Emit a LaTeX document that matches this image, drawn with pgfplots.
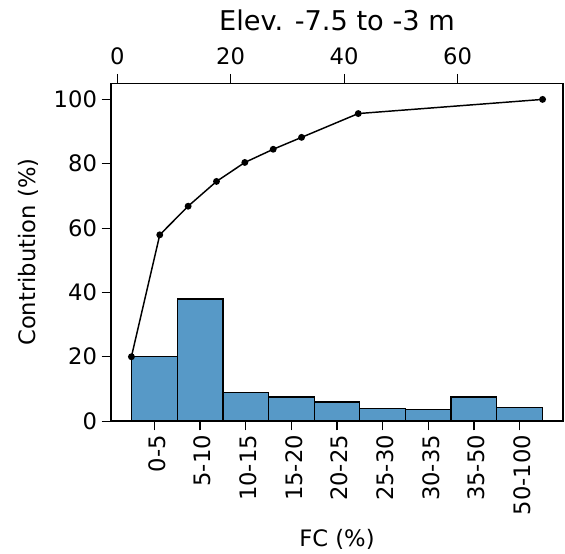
\documentclass[border=0pt]{standalone}
\usepackage{fontspec}
\setmainfont{DejaVu Sans}
\usepackage{pgfplots}
\pgfplotsset{compat=1.18}
\definecolor{barblue}{HTML}{5799C7}

\begin{document}
\begin{tikzpicture}
\useasboundingbox (-83.25pt,-99pt) rectangle (340.5pt,315.8pt);
\pgfplotsset{
  every axis/.append style={
    scale only axis, width=339pt, height=253.3pt,
    ymin=0, ymax=105,
    tick align=outside,
    major tick length=7pt,
    every tick/.style={black, line width=0.8pt},
    axis line style={line width=0.9pt},
    tick label style={font=\fontsize{17}{20}\selectfont},
    /pgf/number format/assume math mode=true,
  },
  every axis title shift=0pt,
}

% bars on a categorical axis
\begin{axis}[
    xmin=-0.95, xmax=8.95,
    xtick={0,...,8},
    xticklabels={0-5,5-10,10-15,15-20,20-25,25-30,30-35,35-50,50-100},
    xticklabel style={rotate=90, anchor=east, yshift=-2pt},
    xtick pos=bottom, ytick pos=left,
    ytick={0,20,...,100},
    xlabel={FC (\%)},
    ylabel={Contribution (\%)},
    every axis x label/.style={at={(axis description cs:0.5,0)}, yshift=-89pt, anchor=center, font=\fontsize{17}{20}\selectfont},
    every axis y label/.style={at={(axis description cs:0,0.5)}, xshift=-62pt, rotate=90, anchor=center, font=\fontsize{17}{20}\selectfont},
  ]
  \addplot[ybar, bar width=1, fill=barblue, draw=black, line width=1pt]
  coordinates {
      (0,20.0) (1,37.9) (2,8.8) (3,7.5) (4,5.9)
      (5,4.0) (6,3.6) (7,7.5) (8,4.2)
  };
\end{axis}

% cumulative curve on the top axis
\begin{axis}[
    xmin=-1.1, xmax=78.6,
    axis x line*=top,
    hide y axis,
    xtick={0,20,40,60},
    xticklabel style={yshift=3pt},
    title={Elev. -7.5 to -3 m},
    title style={font=\fontsize{20.4}{24}\selectfont, at={(axis description cs:0.5,1)}, anchor=base, yshift=39.5pt},
  ]
  \addplot[black, line width=1.1pt, mark=*, mark size=2pt]
  coordinates {
      (2.5,20.0) (7.5,57.9) (12.5,66.8) (17.5,74.5) (22.5,80.4)
      (27.5,84.5) (32.5,88.2) (42.5,95.6) (75,100)
  };
\end{axis}
\end{tikzpicture}
\end{document}
